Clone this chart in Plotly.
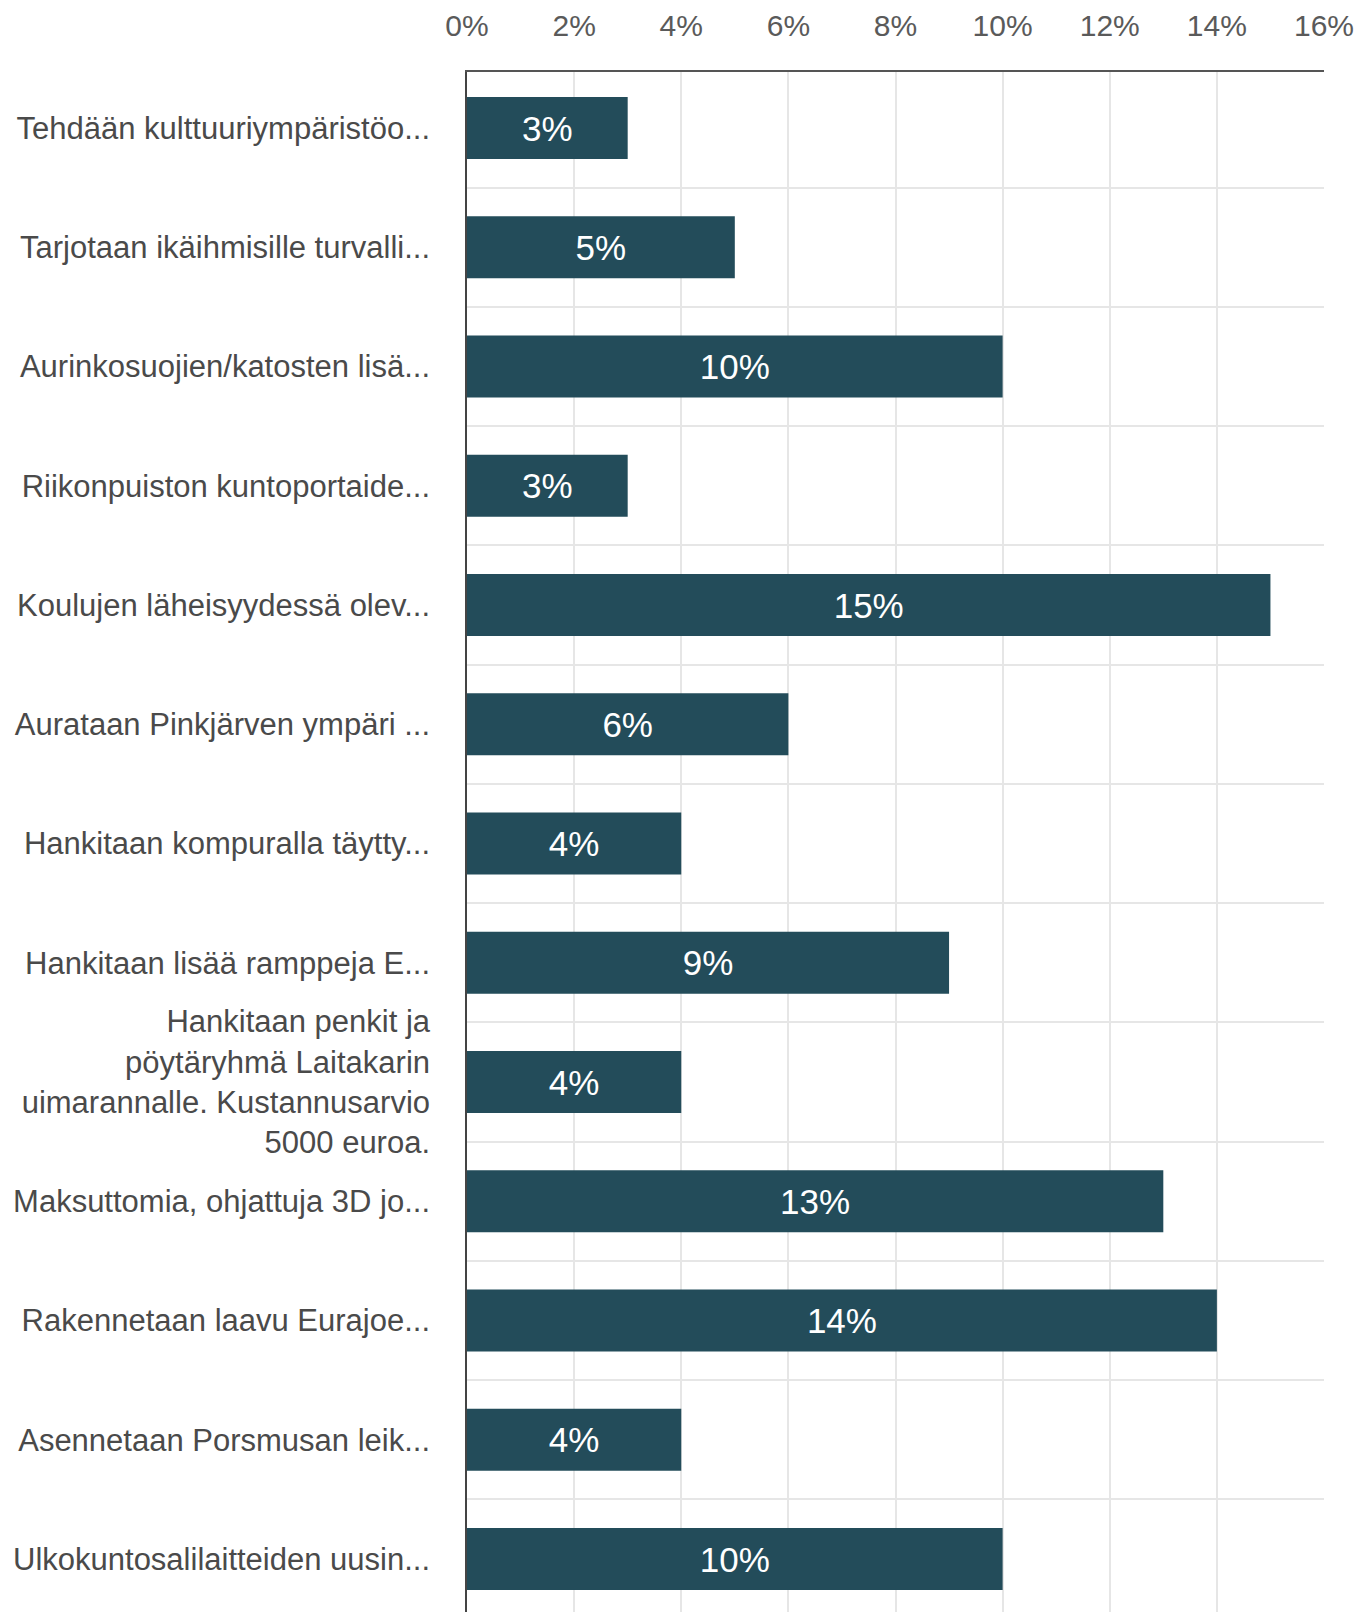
import plotly.graph_objects as go

categories = [
    "Tehdään kulttuuriympäristöo...",
    "Tarjotaan ikäihmisille turvalli...",
    "Aurinkosuojien/katosten lisä...",
    "Riikonpuiston kuntoportaide...",
    "Koulujen läheisyydessä olev...",
    "Aurataan Pinkjärven ympäri ...",
    "Hankitaan kompuralla täytty...",
    "Hankitaan lisää ramppeja E...",
    "Hankitaan penkit ja<br>pöytäryhmä Laitakarin<br>uimarannalle. Kustannusarvio<br>5000 euroa.",
    "Maksuttomia, ohjattuja 3D jo...",
    "Rakennetaan laavu Eurajoe...",
    "Asennetaan Porsmusan leik...",
    "Ulkokuntosalilaitteiden uusin...",
]
values = [3, 5, 10, 3, 15, 6, 4, 9, 4, 13, 14, 4, 10]
x_ticks = [0, 2, 4, 6, 8, 10, 12, 14, 16]
x_tick_labels = [f"{v}%" for v in x_ticks]

positions = list(range(len(categories)))

FONT = "Liberation Sans, Arial, sans-serif"

fig = go.Figure()
fig.add_trace(go.Bar(
    x=values,
    y=positions,
    orientation="h",
    marker=dict(color="#234C5A", line=dict(width=0)),
    text=[f"{v}%" for v in values],
    textposition="inside",
    insidetextanchor="middle",
    textangle=0,
    constraintext="none",
    textfont=dict(color="white", size=35, family=FONT),
    width=0.52,
    hoverinfo="skip",
))

fig.update_layout(
    width=1357,
    height=1612,
    margin=dict(l=467, r=33, t=72, b=0, pad=0),
    paper_bgcolor="white",
    plot_bgcolor="white",
    showlegend=False,
    font=dict(family=FONT, color="#444444"),
    xaxis=dict(
        side="top",
        range=[0, 16],
        tickvals=x_ticks,
        ticktext=x_tick_labels,
        tickfont=dict(size=30, color="#5a5a5a"),
        ticks="outside",
        ticklen=22,
        tickcolor="rgba(0,0,0,0)",
        showgrid=True,
        gridcolor="#e6e6e6",
        gridwidth=1.5,
        showline=True,
        linecolor="#555555",
        linewidth=2,
        zeroline=False,
        fixedrange=True,
    ),
    yaxis=dict(
        range=[12.444, -0.47],
        tickvals=positions,
        ticktext=categories,
        tickfont=dict(size=31, color="#4a4a4a"),
        ticks="outside",
        ticklen=29,
        tickcolor="rgba(0,0,0,0)",
        showgrid=False,
        minor=dict(
            tickvals=[p + 0.5 for p in positions],
            showgrid=True,
            gridcolor="#e6e6e6",
            gridwidth=2,
            ticks="",
        ),
        showline=True,
        linecolor="#444444",
        linewidth=1.5,
        zeroline=False,
        fixedrange=True,
    ),
)

fig.write_html(
    "out.html",
    config={"displayModeBar": False},
    post_script="document.body.style.margin='0';document.body.style.overflow='hidden';",
)
